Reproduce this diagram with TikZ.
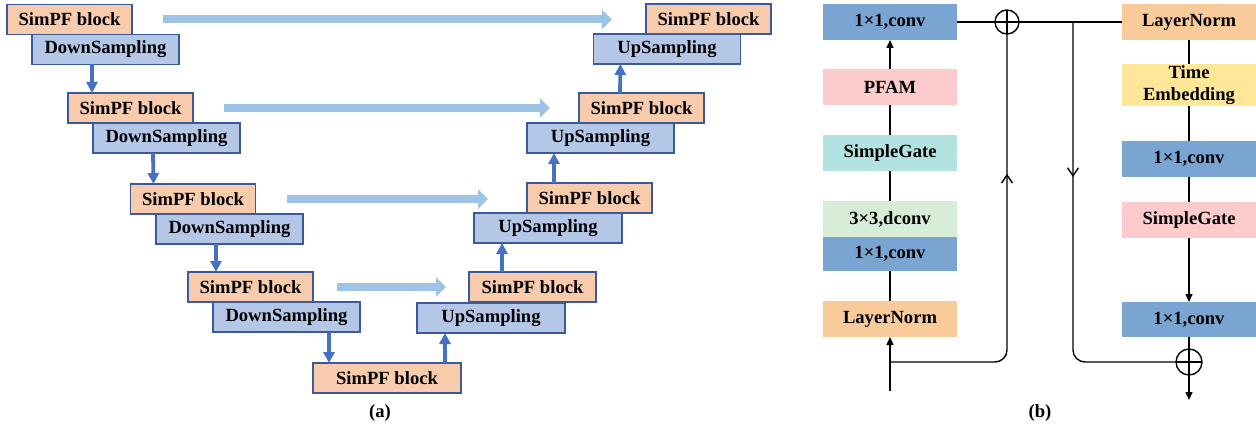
\documentclass[tikz,border=0pt]{standalone}
\usepackage{fontspec}
\setmainfont{Liberation Serif}
\usetikzlibrary{arrows.meta,decorations.markings}
\definecolor{simpf}{HTML}{F8CBAD}
\definecolor{dsfill}{HTML}{B4C7E7}
\definecolor{bordc}{HTML}{3A5A9A}
\definecolor{darrc}{HTML}{4472C4}
\definecolor{skipc}{HTML}{9DC3E6}
\definecolor{convb}{HTML}{7AA5D2}
\definecolor{pfamc}{HTML}{FCCCCC}
\definecolor{sgc}{HTML}{B2E3E1}
\definecolor{dconvc}{HTML}{D8EDD8}
\definecolor{lnc}{HTML}{F9CB9B}
\definecolor{tec}{HTML}{FFE699}
\begin{document}
\begin{tikzpicture}[x=1pt,y=-1pt,
  font=\fontsize{18.6pt}{21.5pt}\selectfont\bfseries,
  abox/.style={draw=bordc, line width=1.3pt, minimum height=30pt, inner sep=0pt, outer sep=0pt},
  sbox/.style={abox, fill=simpf, minimum width=125pt},
  dbox/.style={abox, fill=dsfill, minimum width=147pt},
  darr/.style={draw=darrc, line width=3.8pt, -{Triangle[width=11pt,length=11pt]}},
  skip/.style={draw=skipc, line width=8pt, -{Triangle[width=19pt,length=10pt]}},
  bbox/.style={inner sep=0pt, outer sep=0pt, minimum width=134pt, minimum height=36pt, align=center},
  bline/.style={draw=black, line width=1.4pt},
  barr/.style={bline, -{Triangle[width=7pt,length=8pt]}},
  opl/.style={circle, draw=black, line width=1.4pt, minimum size=#1, inner sep=0pt, outer sep=0pt,
    path picture={\draw[line width=1.4pt] (path picture bounding box.north) -- (path picture bounding box.south)
      (path picture bounding box.west) -- (path picture bounding box.east);}},
  midarr/.style={postaction={decorate}, decoration={markings, mark=at position #1 with {\arrow{Straight Barb[length=8pt,width=11pt]}}}}
]
\useasboundingbox (0,0) rectangle (1256,425);

% ---------------- (a) ----------------
\node[sbox] (s1) at (69.5,19.5) {SimPF block};
\node[dbox] (d1) at (105.5,49.5) {DownSampling};
\node[sbox] (s2) at (130.5,108) {SimPF block};
\node[dbox] (d2) at (166.5,138) {DownSampling};
\node[sbox] (s3) at (193,199) {SimPF block};
\node[dbox] (d3) at (229.5,229) {DownSampling};
\node[sbox] (s4) at (250.5,287) {SimPF block};
\node[dbox] (d4) at (286.5,317) {DownSampling};
\node[sbox, minimum width=148pt] (sb) at (387,378) {SimPF block};

\node[dbox, minimum width=148pt] (u4) at (491,318) {UpSampling};
\node[sbox, minimum width=127pt] (r4) at (532.5,287) {SimPF block};
\node[dbox, minimum width=148pt] (u3) at (548,228) {UpSampling};
\node[sbox] (r3) at (589.5,198) {SimPF block};
\node[dbox] (u2) at (600.5,138) {UpSampling};
\node[sbox] (r2) at (641.5,108) {SimPF block};
\node[dbox] (u1) at (667,49) {UpSampling};
\node[sbox] (r1) at (708.5,19) {SimPF block};

\draw[darr] ([xshift=60pt]d1.south west) -- ([xshift=24pt]s2.north west);
\draw[darr] ([xshift=60pt]d2.south west) -- ([xshift=23pt]s3.north west);
\draw[darr] ([xshift=60pt]d3.south west) -- ([xshift=28pt]s4.north west);
\draw[darr] ([xshift=116pt]d4.south west) -- ([xshift=16pt]sb.north west);
\draw[darr] ([xshift=132pt]sb.north west) -- ([xshift=28pt]u4.south west);
\draw[darr] ([xshift=33pt]r4.north west) -- ([xshift=28pt]u3.south west);
\draw[darr] ([xshift=27pt]r3.north west) -- ([xshift=27pt]u2.south west);
\draw[darr] ([xshift=41pt]r2.north west) -- ([xshift=27pt]u1.south west);

\draw[skip] ([xshift=31pt]s1.east) -- ([xshift=-34pt]r1.west |- s1.east);
\draw[skip] ([xshift=31pt]s2.east) -- ([xshift=-29pt]r2.west |- s2.east);
\draw[skip] ([xshift=31pt]s3.east) -- ([xshift=-39pt]r3.west |- s3.east);
\draw[skip] ([xshift=24pt]s4.east) -- ([xshift=-23pt]r4.west |- s4.east);

\node (la) at (380,413) {(a)};

% ---------------- (b) ----------------
\node[bbox, fill=convb] (c1) at (890,22) {1×1,conv};
\node[bbox, fill=pfamc] (pfam) at (890,87) {PFAM};
\node[bbox, fill=sgc] (sg) at (890,153) {SimpleGate};
\node[bbox, fill=dconvc] (dc) at (890,219) {3×3,dconv};
\node[bbox, fill=convb, minimum height=34pt] (c2) at (890,254) {1×1,conv};
\node[bbox, fill=lnc] (ln) at (890,319) {LayerNorm};
\coordinate (in) at (890,391);
\coordinate (inbr) at (890,362);

\node[bbox, fill=lnc] (ln2) at (1189,22) {LayerNorm};
\node[bbox, fill=tec, minimum height=42pt] (te) at (1189,85) {Time\\Embedding};
\node[bbox, fill=convb] (c3) at (1189,159) {1×1,conv};
\node[bbox, fill=pfamc] (sg2) at (1189,220) {SimpleGate};
\node[bbox, fill=convb, minimum height=35pt] (c4) at (1189,319.5) {1×1,conv};

\node[opl=24pt] (op1) at (1007,22) {};
\node[opl=26pt] (op2) at (1189,362) {};
\coordinate (br) at (1073,22);
\coordinate (out) at (1189,400);

\draw[barr] (in) -- (ln.south);
\draw[bline] (ln.north) -- (c2.south);
\draw[bline] (dc.north) -- (sg.south);
\draw[bline] (sg.north) -- (pfam.south);
\draw[barr] (pfam.north) -- (c1.south);
\draw[bline] (c1.east) -- (op1.west);
\draw[bline] (op1.east) -- (ln2.west);
\draw[bline, rounded corners=12pt, midarr=300pt] (inbr) -| (op1.south);
\draw[bline, rounded corners=12pt, midarr=155pt] (br) |- (op2.west);

\draw[bline] (ln2.south) -- (te.north);
\draw[bline] (te.south) -- (c3.north);
\draw[bline] (c3.south) -- (sg2.north);
\draw[barr] (sg2.south) -- (c4.north);
\draw[bline] (c4.south) -- (op2.north);
\draw[barr] (op2.south) -- (out);

\node (lb) at (1040,413) {(b)};
\end{tikzpicture}
\end{document}
